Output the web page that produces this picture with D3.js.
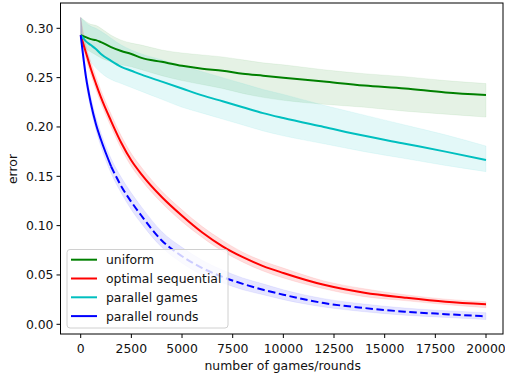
<!DOCTYPE html>
<html>
<head>
<meta charset="utf-8">
<script src="https://cdn.jsdelivr.net/npm/d3@7"></script>
<style>
  html, body { margin: 0; padding: 0; background: #fff; }
  svg { display: block; }
</style>
</head>
<body>
<div id="chart"></div>
<script>
const games = [0, 250, 500, 750, 1000, 1500, 2000, 2500, 3000, 4000, 5000, 6000, 7000, 8000, 9000, 10000, 12000, 14000, 16000, 18000, 20000]

const uniformMean = [0.293, 0.291, 0.289, 0.288, 0.286, 0.281, 0.277, 0.274, 0.270, 0.266, 0.262, 0.259, 0.257, 0.254, 0.252, 0.250, 0.246, 0.242, 0.239, 0.235, 0.2325]
const uniformHigh = [0.311, 0.307, 0.304, 0.303, 0.300, 0.293, 0.288, 0.285, 0.283, 0.278, 0.275, 0.273, 0.271, 0.268, 0.265, 0.263, 0.258, 0.254, 0.251, 0.247, 0.244]
const uniformLow = [0.292, 0.280, 0.276, 0.273, 0.270, 0.266, 0.263, 0.261, 0.258, 0.252, 0.247, 0.243, 0.239, 0.234, 0.230, 0.227, 0.223, 0.220, 0.216, 0.213, 0.210]

const sequentialMean = [0.293, 0.276, 0.259, 0.244, 0.230, 0.206, 0.184, 0.166, 0.152, 0.129, 0.110, 0.093, 0.079, 0.068, 0.059, 0.052, 0.040, 0.032, 0.027, 0.0228, 0.0203]
const sequentialHigh = [0.311, 0.283, 0.266, 0.251, 0.237, 0.213, 0.191, 0.173, 0.159, 0.135, 0.116, 0.099, 0.085, 0.073, 0.064, 0.057, 0.044, 0.036, 0.030, 0.0255, 0.0229]
const sequentialLow = [0.292, 0.270, 0.253, 0.238, 0.224, 0.200, 0.178, 0.160, 0.146, 0.123, 0.104, 0.088, 0.074, 0.063, 0.054, 0.047, 0.036, 0.028, 0.024, 0.0200, 0.0168]

const gamesMean = [0.293, 0.287, 0.283, 0.279, 0.274, 0.267, 0.261, 0.257, 0.253, 0.246, 0.239, 0.232, 0.226, 0.220, 0.214, 0.209, 0.200, 0.191, 0.183, 0.175, 0.1665]
const gamesHigh = [0.311, 0.306, 0.302, 0.300, 0.297, 0.290, 0.283, 0.278, 0.274, 0.268, 0.262, 0.256, 0.250, 0.244, 0.238, 0.233, 0.222, 0.212, 0.202, 0.192, 0.1807]
const gamesLow = [0.292, 0.274, 0.266, 0.260, 0.255, 0.248, 0.244, 0.240, 0.236, 0.228, 0.220, 0.214, 0.208, 0.202, 0.196, 0.191, 0.183, 0.175, 0.168, 0.161, 0.1547]

const roundsMean = [0.293, 0.252, 0.224, 0.203, 0.187, 0.160, 0.140, 0.124, 0.110, 0.085, 0.069, 0.057, 0.048, 0.041, 0.035, 0.030, 0.0215, 0.0165, 0.0128, 0.0103, 0.0081]
const roundsHigh = [0.311, 0.259, 0.231, 0.210, 0.194, 0.168, 0.149, 0.133, 0.119, 0.094, 0.078, 0.065, 0.055, 0.047, 0.041, 0.035, 0.026, 0.0205, 0.0165, 0.0138, 0.0118]
const roundsLow = [0.292, 0.246, 0.218, 0.197, 0.180, 0.153, 0.133, 0.116, 0.102, 0.078, 0.062, 0.050, 0.042, 0.035, 0.030, 0.025, 0.0175, 0.0127, 0.0092, 0.0070, 0.0048]
const roundsSolidUntil = 1500

const xTicks = [0, 2500, 5000, 7500, 10000, 12500, 15000, 17500, 20000]
const yTicks = [0, 0.05, 0.10, 0.15, 0.20, 0.25, 0.30]

const series = [
  { name: 'uniform', color: '#008000', alpha: 0.1, mean: uniformMean, high: uniformHigh, low: uniformLow },
  { name: 'optimal sequential', color: '#ff0000', alpha: 0.13, mean: sequentialMean, high: sequentialHigh, low: sequentialLow },
  { name: 'parallel games', color: '#00bfbf', alpha: 0.11, mean: gamesMean, high: gamesHigh, low: gamesLow },
  { name: 'parallel rounds', color: '#0000ff', alpha: 0.1, mean: roundsMean, high: roundsHigh, low: roundsLow, solidUntil: roundsSolidUntil }
]

const width = 505
const height = 379
const frame = { left: 60.5, right: 503, top: 3, bottom: 334 }
const font = 'DejaVu Sans, sans-serif'
const fontSize = 12.4
const textColor = '#111'

const svg = d3.select('#chart')
  .append('svg')
  .attr('width', width)
  .attr('height', height)
  .style('font-family', font)

const x = d3.scaleLinear().domain([0, 20000]).range([80.7, 486])
const y = d3.scaleLinear().domain([0, 0.30]).range([324.3, 28.3])

svg.append('defs').append('clipPath').attr('id', 'clip')
  .append('rect')
  .attr('x', frame.left).attr('y', frame.top)
  .attr('width', frame.right - frame.left).attr('height', frame.bottom - frame.top)

const plot = svg.append('g').attr('clip-path', 'url(#clip)')

const area = d3.area()
  .x((d) => x(d.x))
  .y0((d) => y(d.lo))
  .y1((d) => y(d.hi))
  .curve(d3.curveMonotoneX)

const line = d3.line()
  .x((d) => x(d.x))
  .y((d) => y(d.v))
  .curve(d3.curveMonotoneX)

series.forEach((s) => {
  const rows = games.map((g, i) => ({ x: g, lo: s.low[i], hi: s.high[i] }))
  plot.append('path')
    .datum(rows)
    .attr('d', area)
    .attr('fill', s.color)
    .attr('fill-opacity', s.alpha)
    .attr('stroke', s.color)
    .attr('stroke-opacity', s.alpha * 0.6)
    .attr('stroke-width', 1)
})

series.forEach((s) => {
  const rows = games.map((g, i) => ({ x: g, v: s.mean[i] }))
  if (s.solidUntil != null) {
    // solid at the start, dashed for the rest
    const solid = rows.filter((d) => d.x <= s.solidUntil)
    const dashed = rows.filter((d) => d.x >= s.solidUntil)
    plot.append('path').datum(solid).attr('d', line)
      .attr('fill', 'none').attr('stroke', s.color).attr('stroke-width', 2)
    plot.append('path').datum(dashed).attr('d', line)
      .attr('fill', 'none').attr('stroke', s.color).attr('stroke-width', 2)
      .attr('stroke-dasharray', '7.5,3.5')
  } else {
    plot.append('path').datum(rows).attr('d', line)
      .attr('fill', 'none').attr('stroke', s.color).attr('stroke-width', 2)
  }
})

svg.append('rect')
  .attr('x', frame.left).attr('y', frame.top)
  .attr('width', frame.right - frame.left).attr('height', frame.bottom - frame.top)
  .attr('fill', 'none').attr('stroke', '#000').attr('stroke-width', 1)

const xAxis = svg.append('g')
xTicks.forEach((t) => {
  const px = x(t)
  xAxis.append('line')
    .attr('x1', px).attr('x2', px)
    .attr('y1', frame.bottom).attr('y2', frame.bottom + 4)
    .attr('stroke', '#000').attr('stroke-width', 1)
  xAxis.append('text')
    .attr('x', px).attr('y', frame.bottom + 18.5)
    .attr('text-anchor', 'middle')
    .attr('font-size', fontSize)
    .attr('fill', textColor)
    .text(String(t))
})

const yAxis = svg.append('g')
yTicks.forEach((t) => {
  const py = y(t)
  yAxis.append('line')
    .attr('x1', frame.left - 4).attr('x2', frame.left)
    .attr('y1', py).attr('y2', py)
    .attr('stroke', '#000').attr('stroke-width', 1)
  yAxis.append('text')
    .attr('x', frame.left - 7).attr('y', py + 4.5)
    .attr('text-anchor', 'end')
    .attr('font-size', fontSize)
    .attr('fill', textColor)
    .text(t.toFixed(2))
})

svg.append('text')
  .attr('x', 282.7).attr('y', 370)
  .attr('text-anchor', 'middle')
  .attr('font-size', fontSize)
  .attr('fill', textColor)
  .text('number of games/rounds')

svg.append('text')
  .attr('transform', `translate(16.5, 169) rotate(-90)`)
  .attr('text-anchor', 'middle')
  .attr('font-size', fontSize)
  .attr('fill', textColor)
  .text('error')

const legend = svg.append('g')
legend.append('rect')
  .attr('x', 67).attr('y', 249.5)
  .attr('width', 161).attr('height', 78.5)
  .attr('rx', 3)
  .attr('fill', '#fff').attr('fill-opacity', 0.8)
  .attr('stroke', '#d0d0d0').attr('stroke-width', 1)

series.forEach((s, i) => {
  const ly = 259.7 + i * 18.8
  legend.append('line')
    .attr('x1', 71).attr('x2', 97)
    .attr('y1', ly).attr('y2', ly)
    .attr('stroke', s.color).attr('stroke-width', 2)
  legend.append('text')
    .attr('x', 106).attr('y', ly + 4.5)
    .attr('font-size', fontSize)
    .attr('fill', textColor)
    .text(s.name)
})
</script>
</body>
</html>
